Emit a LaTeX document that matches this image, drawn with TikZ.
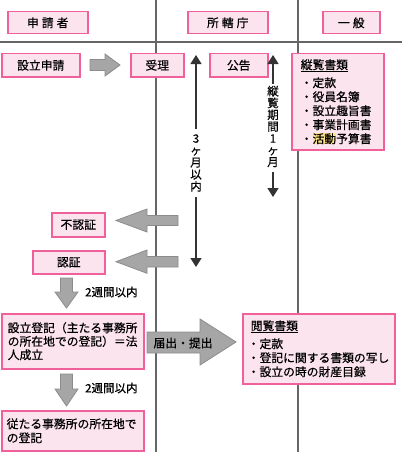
\documentclass[tikz,border=0pt]{standalone}
\usepackage{fontspec}
\setmainfont{Noto Sans CJK JP}[FakeBold=0.5]
\usetikzlibrary{arrows.meta}
\definecolor{pinkline}{HTML}{F0609A}
\definecolor{pinkfill}{HTML}{FCE4EE}
\definecolor{gridgray}{HTML}{666666}
\definecolor{arrgray}{HTML}{A6A6A6}
\definecolor{arredge}{HTML}{8C8C8C}
\definecolor{darkarrow}{HTML}{333333}
\definecolor{hl}{HTML}{FFE38A}
\begin{document}
\begin{tikzpicture}[x=1pt,y=-1pt,
  pbox/.style={draw=pinkline, fill=pinkfill, line width=1.5pt, inner sep=0pt,
    anchor=north west, font=\fontsize{11.8}{14}\selectfont},
  lbox/.style={pbox, align=left},
  blockarrow/.style={fill=arrgray, draw=arredge, line width=0.8pt},
  gridline/.style={draw=gridgray, line width=2pt},
  thinarrow/.style={draw=darkarrow, line width=1.4pt, -{Triangle[width=11pt,length=9pt]}},
  lbl/.style={font=\fontsize{11.5}{12}\selectfont, inner sep=0pt},
  vlbl/.style={lbl, align=center}
]
\fill[white] (0,0) rectangle (402,452);
\useasboundingbox (0,0) rectangle (402,452);
% grid
\draw[gridline] (0,42) -- (402,42);
\draw[gridline] (156,0) -- (156,452);
\draw[gridline] (298,0) -- (298,452);
% headers
\node[pbox, minimum width=80pt, minimum height=22pt] (h1) at (7,11) {申\hspace{3pt}請\hspace{3pt}者};
\node[pbox, minimum width=80pt, minimum height=22pt] (h2) at (187,11) {所\hspace{3pt}轄\hspace{3pt}庁};
\node[pbox, minimum width=57pt, minimum height=22pt] (h3) at (322,11) {一\hspace{3pt}般};
% row 1
\node[pbox, minimum width=78pt, minimum height=23pt] (sinsei) at (1,53) {設立申請};
\node[pbox, minimum width=53pt, minimum height=23pt] (juri) at (130,53) {受理};
\node[pbox, minimum width=58pt, minimum height=23pt] (kokoku) at (209,53) {公告};
\node[lbox, inner xsep=9pt, text width=74pt, minimum height=96pt] (juran) at (291,53)
  {\underline{縦覧書類}\\[4pt]・定款\\・役員名簿\\・設立趣旨書\\・事業計画書\\・{\fboxsep=0pt\colorbox{hl}{活動}}予算書};
\draw[blockarrow] (90,59.5) -- (105,59.5) -- (105,54) -- (120,65) -- (105,76) -- (105,70.5) -- (90,70.5) -- cycle;
% period labels
\node[vlbl, font=\fontsize{11.5}{12}\selectfont] (three) at (196,163) {3\\ヶ\\月\\以\\内};
\node[vlbl, font=\fontsize{11.5}{11.8}\selectfont] (jp) at (273,126.5) {縦\\覧\\期\\間\\1\\ヶ\\月};
\coordinate (tipA) at (196,55);
\coordinate (tipB) at (196,267);
\coordinate (tipC) at (273,55);
\coordinate (tipD) at (273,197);
\draw[thinarrow] ([yshift=5pt]three.north) -- (tipA);
\draw[thinarrow] ([yshift=-5pt]three.south) -- (tipB);
\draw[thinarrow] ([yshift=2pt]jp.north) -- (tipC);
\draw[thinarrow] ([yshift=-5pt]jp.south) -- (tipD);
% not approved / approved
\node[pbox, minimum width=53pt, minimum height=24pt] (funin) at (51,212) {不認証};
\node[pbox, minimum width=72pt, minimum height=23pt] (nin) at (32,250) {認証};
\draw[blockarrow] (178,215.5) -- (147,215.5) -- (147,209) -- (116,220.5) -- (147,232) -- (147,225.5) -- (178,225.5) -- cycle;
\draw[blockarrow] (178,256.5) -- (147,256.5) -- (147,250) -- (116,261.7) -- (147,273.3) -- (147,267) -- (178,267) -- cycle;
% down arrow 1
\draw[blockarrow] (60.5,278) -- (72.5,278) -- (72.5,292) -- (78,292) -- (66.5,308) -- (55,292) -- (60.5,292) -- cycle;
\node[lbl, anchor=west] (w1) at (85,292) {2週間以内};
% registration
\node[lbox, inner xsep=6pt, text width=130pt, minimum height=55pt, font=\fontsize{11.8}{13.5}\selectfont] (toki) at (1,313)
  {設立登記（主たる事務所\\の所在地での登記）＝法\\人成立};
\draw[blockarrow] (147,332) -- (200,332) -- (200,319) -- (236,342) -- (200,365) -- (200,353) -- (147,353) -- cycle;
\node[lbl, font=\fontsize{11.8}{14}\selectfont] (todoke) at (183,343) {届出・提出};
\node[lbox, inner xsep=5pt, text width=142pt, minimum height=70pt] (etsu) at (242,313)
  {\hspace{3pt}\underline{閲覧書類}\\[4pt]・定款\\・登記に関する書類の写し\\・設立の時の財産目録};
% down arrow 2
\draw[blockarrow] (60.5,374) -- (72.5,374) -- (72.5,389) -- (78,389) -- (66.5,406) -- (55,389) -- (60.5,389) -- cycle;
\node[lbl, anchor=west] (w2) at (85,388) {2週間以内};
\node[lbox, inner xsep=5pt, text width=132pt, minimum height=40pt] (jutaru) at (1,410)
  {従たる事務所の所在地で\\の登記};
\end{tikzpicture}
\end{document}
